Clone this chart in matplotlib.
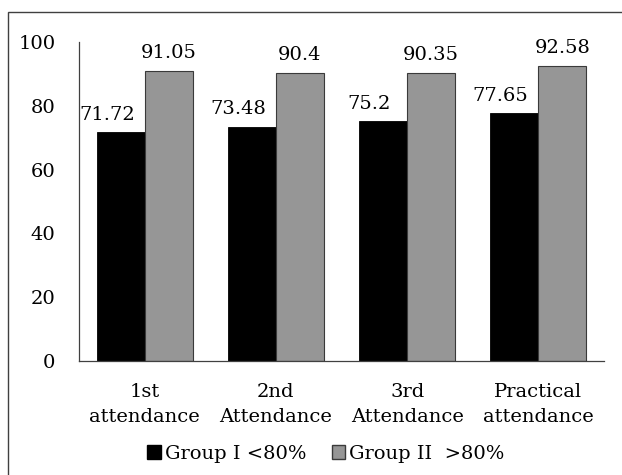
import matplotlib
matplotlib.use("Agg")
import matplotlib.pyplot as plt
from matplotlib.patches import Rectangle, Patch
import numpy as np

categories = ["1st\nattendance", "2nd\nAttendance", "3rd\nAttendance", "Practical\nattendance"]
series_names = ["Group I <80%", "Group II  >80%"]
group1 = [71.72, 73.48, 75.2, 77.65]
group2 = [91.05, 90.4, 90.35, 92.58]
value_labels1 = ["71.72", "73.48", "75.2", "77.65"]
value_labels2 = ["91.05", "90.4", "90.35", "92.58"]
yticks = [0, 20, 40, 60, 80, 100]

plt.rcParams["font.family"] = ["DejaVu Serif"]
FS = 14

fig = plt.figure(figsize=(6.22, 4.75), dpi=100)
ax = fig.add_axes([79 / 622, 1 - 361 / 475, (604 - 79) / 622, (361 - 42) / 475])

# outer frame around the chart area
fig.patches.append(Rectangle((8 / 622, -0.05), 1.2, 1 - 12 / 475 + 0.05,
                             transform=fig.transFigure, fill=False,
                             edgecolor="#404040", linewidth=1.0))

x = np.arange(len(categories))
w = 0.365
b1 = ax.bar(x - w / 2, group1, w, color="black", edgecolor="black", linewidth=0.6,
            label=series_names[0])
b2 = ax.bar(x + w / 2, group2, w, color="#969696", edgecolor="#3a3a3a", linewidth=0.8,
            label=series_names[1])

# value labels; the Group I labels sit a little to the left of their bars
for bars, labels, dx in ((b1, value_labels1, -10), (b2, value_labels2, 0)):
    for rect, txt in zip(bars, labels):
        ax.annotate(txt, (rect.get_x() + rect.get_width() / 2, rect.get_height()),
                    xytext=(dx, 9), textcoords="offset points",
                    ha="center", va="baseline", fontsize=FS)

ax.set_xlim(-0.5, len(categories) - 0.5)
ax.set_ylim(0, 100)
ax.set_yticks(yticks)
ax.set_yticklabels([str(t) for t in yticks], fontsize=FS)
ax.set_xticks(x)
ax.set_xticklabels(categories, fontsize=FS, linespacing=1.5)
ax.tick_params(axis="both", length=0)
ax.tick_params(axis="y", pad=17)
ax.tick_params(axis="x", pad=16)

for side in ["top", "right"]:
    ax.spines[side].set_visible(False)
for side in ["left", "bottom"]:
    ax.spines[side].set_color("#404040")
    ax.spines[side].set_linewidth(0.9)

handles = [Patch(facecolor="black", edgecolor="black"),
           Patch(facecolor="#969696", edgecolor="#3a3a3a")]
fig.legend(handles, series_names, loc="center", bbox_to_anchor=(326 / 622, 1 - 454 / 475),
           ncol=2, frameon=False, fontsize=FS, handlelength=0.7, handleheight=0.7,
           handletextpad=0.2, columnspacing=1.3, borderpad=0)

fig.savefig("out.png", dpi=100, facecolor="white")
